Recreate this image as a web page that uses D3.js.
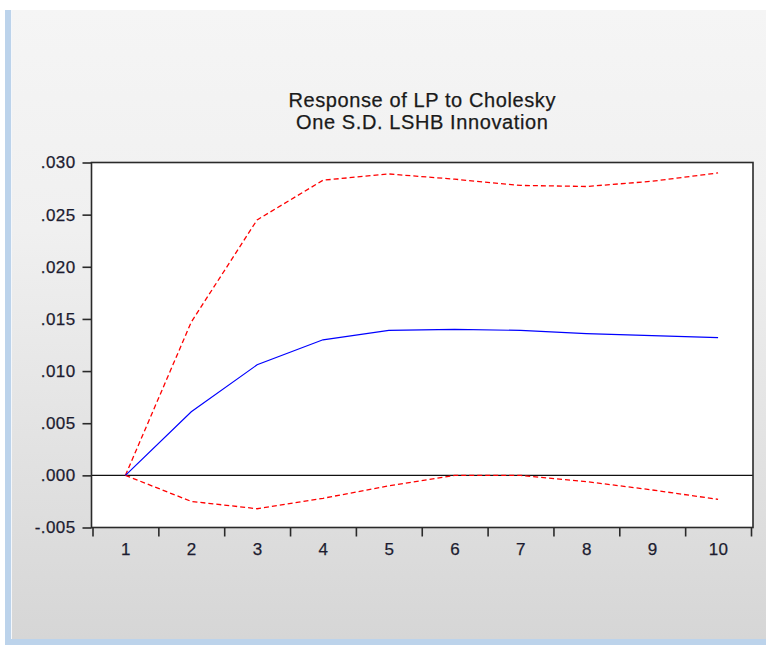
<!DOCTYPE html>
<html>
<head>
<meta charset="utf-8">
<script src="https://cdn.jsdelivr.net/npm/d3@7/dist/d3.min.js"></script>
<style>
  html, body { margin: 0; padding: 0; background: #fff; }
  svg { display: block; font-family: "Liberation Sans", Arial, sans-serif; }
</style>
</head>
<body>
<div id="chart"></div>
<script>
// data
var periods = [1, 2, 3, 4, 5, 6, 7, 8, 9, 10];
var response = [0.0000, 0.0061, 0.0106, 0.0130, 0.0139, 0.0140, 0.0139, 0.0136, 0.0134, 0.0132];
var upperBand = [0.0000, 0.0147, 0.0245, 0.0283, 0.0289, 0.0284, 0.0278, 0.0277, 0.0282, 0.0290];
var lowerBand = [0.0000, -0.0025, -0.0032, -0.0022, -0.0010, 0.0000, 0.0000, -0.0006, -0.0014, -0.0023];
var yTicks = [-0.005, 0.000, 0.005, 0.010, 0.015, 0.020, 0.025, 0.030];
var titleLines = ['Response of LP to Cholesky', 'One S.D. LSHB Innovation'];

// margins
var margin = {
    top: 162.5,
    right: 13,
    bottom: 117.5,
    left: 91.5,
};

var svgWidth = 766;
var svgHeight = 645;

var chartWidth = svgWidth - margin.left - margin.right;
var chartHeight = svgHeight - margin.top - margin.bottom;

var svg = d3.select('#chart').append('svg')
    .attr('width', svgWidth)
    .attr('height', svgHeight);

// window background with gradient and blue frame
var defs = svg.append('defs');
var grad = defs.append('linearGradient')
    .attr('id', 'bg')
    .attr('x1', 0).attr('y1', 0).attr('x2', 0).attr('y2', 1);
grad.append('stop').attr('offset', '0%').attr('stop-color', '#f5f5f5');
grad.append('stop').attr('offset', '35%').attr('stop-color', '#f0f0f0');
grad.append('stop').attr('offset', '70%').attr('stop-color', '#e2e2e2');
grad.append('stop').attr('offset', '100%').attr('stop-color', '#d6d6d6');

svg.append('rect')
    .attr('x', 5).attr('y', 10)
    .attr('width', svgWidth - 5).attr('height', svgHeight - 10)
    .attr('fill', '#bcd3eb');

svg.append('rect')
    .attr('x', 11).attr('y', 10)
    .attr('width', svgWidth - 11).attr('height', 629)
    .attr('fill', 'url(#bg)');

svg.append('line')
    .attr('x1', 11.5).attr('x2', 11.5)
    .attr('y1', 10).attr('y2', 639)
    .attr('stroke', '#f4f7fb')
    .attr('stroke-width', 1);

var chartGroup = svg.append('g')
    .attr('transform', `translate(${margin.left}, ${margin.top})`);

// plot area
chartGroup.append('rect')
    .attr('width', chartWidth)
    .attr('height', chartHeight)
    .attr('fill', '#fff');

// scales
var xscale = d3.scaleLinear()
    .domain([0.5, 10.5])
    .range([1, chartWidth - 2]);

var yscale = d3.scaleLinear()
    .domain([-0.005, 0.030])
    .range([chartHeight, 0]);

// hyphen minus and no leading zero, like ".030" and "-.005"
var locale = d3.formatLocale({ decimal: '.', thousands: ',', grouping: [3], currency: ['', ''], minus: '-' });
var fmt = function (d) {
    return locale.format('.3f')(d).replace(/^(-?)0\./, '$1.');
};

// y axis
var leftaxis = d3.axisLeft(yscale)
    .tickValues(yTicks)
    .tickFormat(fmt)
    .tickSize(9)
    .tickSizeOuter(0)
    .tickPadding(7);

var yAxisG = chartGroup.append('g').call(leftaxis);

// x axis: ticks between periods, labels under each period
var tickaxis = d3.axisBottom(xscale)
    .tickValues(d3.range(0.5, 11, 1))
    .tickFormat('')
    .tickSize(9)
    .tickSizeOuter(0);

var xTickG = chartGroup.append('g')
    .attr('transform', `translate(0, ${chartHeight})`)
    .call(tickaxis);

var labelaxis = d3.axisBottom(xscale)
    .tickValues(periods)
    .tickFormat(d3.format('d'))
    .tickSize(0)
    .tickPadding(15);

var xLabelG = chartGroup.append('g')
    .attr('transform', `translate(0, ${chartHeight})`)
    .call(labelaxis);

[yAxisG, xTickG, xLabelG].forEach(function (g) {
    g.select('.domain').remove();
    g.selectAll('line').attr('stroke', '#2a2a2a').attr('stroke-width', 1.6);
    g.selectAll('text')
        .attr('fill', '#1c1c30')
        .attr('stroke', '#1c1c30')
        .attr('stroke-width', 0.25)
        .style('font-size', '17px')
        .style('letter-spacing', '0.4px')
        .style('font-family', '"Liberation Sans", Arial, sans-serif');
});

// zero line
chartGroup.append('line')
    .attr('x1', 0).attr('x2', chartWidth)
    .attr('y1', yscale(0)).attr('y2', yscale(0))
    .attr('stroke', '#111')
    .attr('stroke-width', 1.2);

// lines
var line = d3.line()
    .x(function (d, i) { return xscale(periods[i]); })
    .y(function (d) { return yscale(d); });

chartGroup.append('path')
    .datum(upperBand)
    .attr('d', line)
    .attr('fill', 'none')
    .attr('stroke', '#ff0000')
    .attr('stroke-width', 1.3)
    .attr('stroke-dasharray', '5,3');

chartGroup.append('path')
    .datum(lowerBand)
    .attr('d', line)
    .attr('fill', 'none')
    .attr('stroke', '#ff0000')
    .attr('stroke-width', 1.3)
    .attr('stroke-dasharray', '5,3');

chartGroup.append('path')
    .datum(response)
    .attr('d', line)
    .attr('fill', 'none')
    .attr('stroke', '#0000ff')
    .attr('stroke-width', 1.2);

// frame
chartGroup.append('rect')
    .attr('width', chartWidth)
    .attr('height', chartHeight)
    .attr('fill', 'none')
    .attr('stroke', '#2a2a2a')
    .attr('stroke-width', 1.6);

// title
var titleGroup = chartGroup.append('g')
    .attr('transform', `translate(${chartWidth / 2}, 0)`);

titleGroup.selectAll('text')
    .data(titleLines)
    .enter()
    .append('text')
    .attr('x', 0)
    .attr('y', function (d, i) { return -55.5 + i * 22; })
    .style('text-anchor', 'middle')
    .style('font-size', '20px')
    .style('letter-spacing', '0.6px')
    .attr('fill', '#1a1a1a')
    .attr('stroke', '#1a1a1a')
    .attr('stroke-width', 0.25)
    .text(function (d) { return d; });
</script>
</body>
</html>
